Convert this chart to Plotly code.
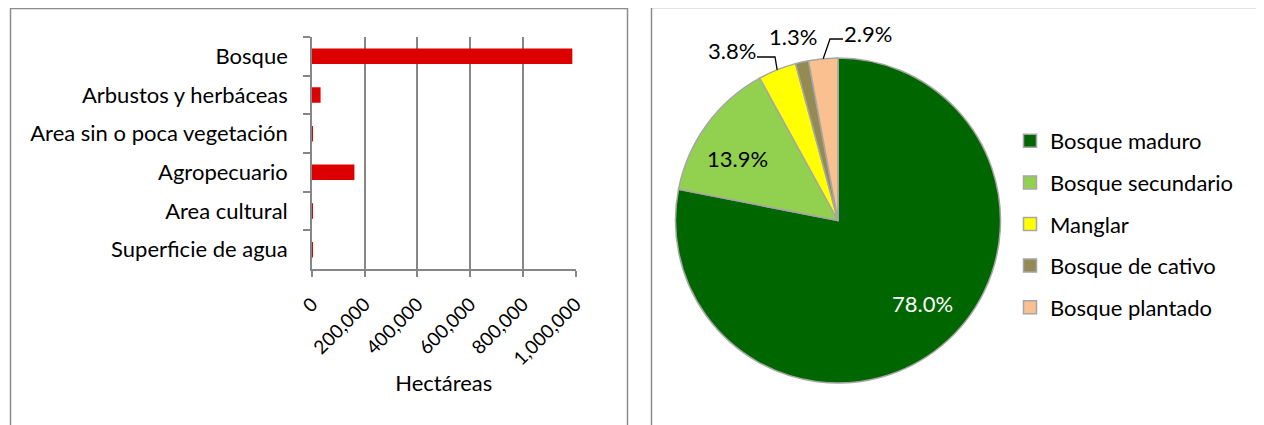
import math
import plotly.graph_objects as go

# ---- data ----
land_categories = ["Bosque", "Arbustos y herbáceas", "Area sin o poca vegetación",
                   "Agropecuario", "Area cultural", "Superficie de agua"]
land_hectares = [988000, 32600, 100, 161000, 2000, 3500]

forest_types = ["Bosque maduro", "Bosque secundario", "Manglar",
                "Bosque de cativo", "Bosque plantado"]
forest_share = [78.0, 13.9, 3.8, 1.3, 2.9]
forest_colors = ["#006600", "#92D050", "#FFFF00", "#948A54", "#FAC090"]

x_ticks = [0, 200000, 400000, 600000, 800000, 1000000]

# ---- geometry (pixels in the browser window) ----
W, H = 1264, 425
OFF = 8  # default page body margin
FONT = "Lato"
FS = 22
PIE_CX, PIE_CY, PIE_R = 838, 220.5, 162.5

# label placement (pixels): (x, y, colour, leader-from points or None)
label_pos = [
    (922, 303, "white", None),
    (737, 158, "black", None),
    (732, 50, "black", [(757, 57), (775, 57)]),
    (793, 36, "black", None),
    (868, 33, "black", [(843, 39), (830, 39)]),
]


def px(x):
    return (x - OFF) / W


def py(y):
    return 1 - (y - OFF) / H


fig = go.Figure()

fig.add_trace(go.Bar(
    x=land_hectares, y=land_categories, orientation="h",
    marker=dict(color="#DD0000", line=dict(width=0)),
    showlegend=False, hoverinfo="skip", xaxis="x", yaxis="y",
))

fig.add_trace(go.Pie(
    labels=forest_types, values=forest_share, sort=False, direction="clockwise",
    rotation=0, textinfo="none",
    marker=dict(colors=forest_colors, line=dict(color="#A6A6A6", width=1.5)),
    domain=dict(x=[px(PIE_CX - PIE_R), px(PIE_CX + PIE_R)],
                y=[py(PIE_CY + PIE_R), py(PIE_CY - PIE_R)]),
    showlegend=False, hoverinfo="skip",
))

# legend entries for pie slices
for name, col in zip(forest_types, forest_colors):
    fig.add_trace(go.Scatter(
        x=[None], y=[None], mode="markers", name=name, legendgroup=name,
        marker=dict(symbol="square", size=13, color=col, line=dict(color="#A6A6A6", width=1.5)),
        xaxis="x2", yaxis="y2", hoverinfo="skip",
    ))

# pie data labels + leader lines
annotations = []
shapes = [
    dict(type="rect", xref="paper", yref="paper",
         x0=px(10.5), x1=px(627.5), y0=-0.1, y1=py(8.5),
         line=dict(color="#8C8C8C", width=1.5), layer="below"),
    dict(type="rect", xref="paper", yref="paper",
         x0=px(651.5), x1=1.1, y0=-0.1, y1=py(7.5),
         line=dict(color="#8C8C8C", width=1.5), layer="below"),
]
total = sum(forest_share)
cum = 0.0
for share, (lx, ly, col, leader) in zip(forest_share, label_pos):
    mid = (cum + share / 2) / total * 2 * math.pi
    cum += share
    annotations.append(dict(
        x=px(lx), y=py(ly), xref="paper", yref="paper", showarrow=False,
        text=f"{share:.1f}%", font=dict(color=col, size=FS, family=FONT),
        xanchor="center", yanchor="middle",
    ))
    if leader:
        ex = PIE_CX + PIE_R * math.sin(mid)
        ey = PIE_CY - PIE_R * math.cos(mid)
        pts = leader + [(ex, ey)]
        path = "M " + " L ".join(f"{px(a):.5f},{py(b):.5f}" for a, b in pts)
        shapes.append(dict(type="path", xref="paper", yref="paper", path=path,
                           line=dict(color="black", width=1.3)))

fig.update_layout(
    width=W, height=H,
    margin=dict(l=0, r=0, t=0, b=0, autoexpand=False),
    paper_bgcolor="white", plot_bgcolor="white",
    font=dict(family=FONT, size=FS, color="black"),
    bargap=0.6,
    xaxis=dict(
        domain=[px(312), px(575.5)], range=[0, 1000000],
        tickvals=x_ticks, tickformat=",d", tickangle=-45,
        showgrid=True, gridcolor="#868686", gridwidth=1.6,
        showline=True, linecolor="#868686", linewidth=1.6,
        ticks="outside", ticklen=6, tickcolor="#868686", tickwidth=1.6,
        ticklabelstandoff=9,
        zeroline=False, anchor="y", automargin=False,
        title=dict(text="Hectáreas", font=dict(size=FS), standoff=7),
        tickfont=dict(size=19),
    ),
    yaxis=dict(
        domain=[py(269), py(37)], autorange="reversed",
        showline=True, linecolor="#868686", linewidth=1.6,
        ticks="outside", ticklen=7, tickcolor="#868686", tickwidth=1.6,
        tickson="boundaries", ticklabelstandoff=18, showgrid=False,
        anchor="x", tickfont=dict(size=FS), automargin=False,
    ),
    xaxis2=dict(domain=[0.99, 1.0], visible=False, anchor="y2"),
    yaxis2=dict(domain=[0.0, 0.01], visible=False, anchor="x2"),
    legend=dict(
        x=px(1010), y=py(120), xanchor="left", yanchor="top",
        font=dict(size=FS, family=FONT), tracegroupgap=10,
        bgcolor="rgba(0,0,0,0)", itemclick=False,
    ),
    shapes=shapes,
    annotations=annotations,
)

fig.write_html("out.html")
